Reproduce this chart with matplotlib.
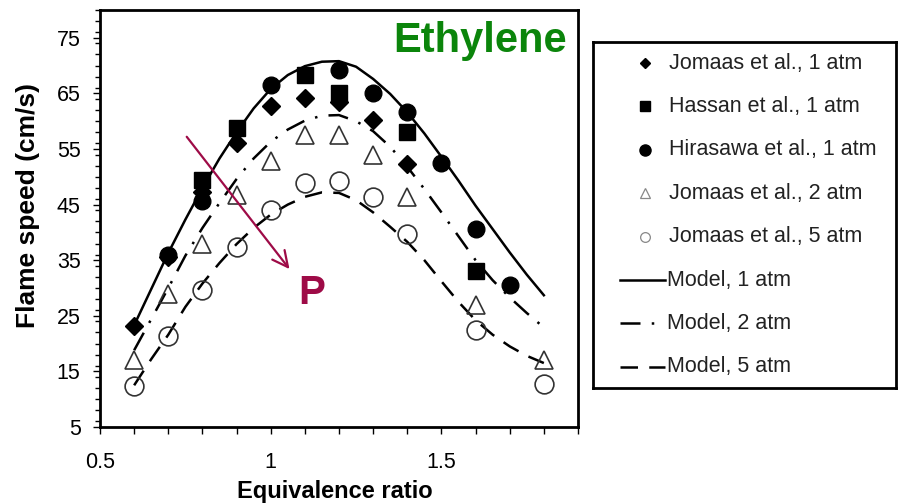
import matplotlib
matplotlib.use("Agg")
import matplotlib.pyplot as plt
from matplotlib.ticker import MultipleLocator, FixedLocator

plt.rcParams['font.family'] = ['Liberation Sans', 'DejaVu Sans']

# ---- measured laminar flame speeds (cm/s) vs equivalence ratio ----
phi_jomaas1 = [0.6, 0.7, 0.8, 0.9, 1.0, 1.1, 1.2, 1.3, 1.4]
su_jomaas1 = [23.2, 35.6, 47.2, 56.0, 62.8, 64.2, 63.5, 60.2, 52.3]

phi_hassan = [0.8, 0.9, 1.1, 1.2, 1.4, 1.6]
su_hassan = [49.5, 58.7, 68.3, 65.0, 58.0, 33.0]

phi_hirasawa = [0.7, 0.8, 1.0, 1.2, 1.3, 1.4, 1.5, 1.6, 1.7]
su_hirasawa = [36.0, 45.6, 66.5, 69.2, 65.0, 61.7, 52.4, 40.7, 30.5]

phi_jomaas2 = [0.6, 0.7, 0.8, 0.9, 1.0, 1.1, 1.2, 1.3, 1.4, 1.6, 1.8]
su_jomaas2 = [17.0, 29.0, 38.0, 46.8, 52.8, 57.5, 57.5, 54.0, 46.4, 27.0, 17.0]

phi_jomaas5 = [0.6, 0.7, 0.8, 0.9, 1.0, 1.1, 1.2, 1.3, 1.4, 1.6, 1.8]
su_jomaas5 = [12.3, 21.3, 29.7, 37.4, 44.0, 48.8, 49.3, 46.3, 39.8, 22.5, 12.8]

# ---- model predictions ----
phi_model = [0.60, 0.65, 0.70, 0.75, 0.80, 0.85, 0.90, 0.95, 1.00, 1.05, 1.10,
             1.15, 1.20, 1.25, 1.30, 1.35, 1.40, 1.45, 1.50, 1.55, 1.60, 1.65,
             1.70, 1.75, 1.80]
su_model1 = [23.3, 29.8, 36.3, 42.3, 48.0, 53.3, 58.0, 62.3, 65.8, 68.3, 69.9,
             70.7, 70.8, 69.8, 67.6, 64.9, 61.6, 57.8, 53.6, 49.3, 44.8, 40.6,
             36.4, 32.4, 28.7]
su_model2 = [18.8, 24.4, 30.0, 35.8, 40.8, 45.3, 49.6, 53.3, 56.3, 58.5, 60.1,
             61.0, 61.1, 60.0, 58.2, 55.4, 51.8, 47.8, 43.6, 39.3, 35.0, 31.4,
             28.3, 25.5, 22.9]
su_model5 = [12.5, 17.2, 21.6, 26.6, 30.8, 34.5, 37.9, 40.8, 43.2, 45.0, 46.4,
             47.2, 47.1, 45.8, 43.6, 41.0, 38.3, 35.0, 31.2, 27.5, 24.2, 21.6,
             19.5, 17.8, 16.5]

x_ticks = [0.5, 1.0, 1.5]
x_tick_labels = ["0.5", "1", "1.5"]
y_ticks = [5, 15, 25, 35, 45, 55, 65, 75]

data_labels = ["Jomaas et al., 1 atm", "Hassan et al., 1 atm",
               "Hirasawa et al., 1 atm", "Jomaas et al., 2 atm",
               "Jomaas et al., 5 atm"]
model_labels = ["Model, 1 atm", "Model, 2 atm", "Model, 5 atm"]

# styles
marker_styles = [
    dict(marker='D', ms=9, color='black', mec='black'),
    dict(marker='s', ms=11, color='black', mec='black'),
    dict(marker='o', ms=12, color='black', mec='black'),
    dict(marker='^', ms=13, mfc='none', mec='#333333', mew=1.2),
    dict(marker='o', ms=13.5, mfc='none', mec='#333333', mew=1.2),
]
legend_marker_styles = [
    dict(marker='D', ms=5.5, color='black', mec='black'),
    dict(marker='s', ms=7.5, color='black', mec='black'),
    dict(marker='o', ms=8, color='black', mec='black'),
    dict(marker='^', ms=7, mfc='none', mec='#888888', mew=0.9),
    dict(marker='o', ms=7, mfc='none', mec='#888888', mew=0.9),
]
line_styles = [
    dict(ls='-', lw=1.8, color='black'),
    dict(ls=(0, (8, 4.5, 1, 4.5)), lw=1.8, color='black'),
    dict(ls=(0, (7, 4.5)), lw=1.8, color='black'),
]

fig = plt.figure(figsize=(8.98, 5.03), dpi=100)
ax = fig.add_axes([0.11136, 0.15109, 0.53229, 0.82903])

for (px, py), st in zip([(phi_model, su_model1), (phi_model, su_model2),
                          (phi_model, su_model5)], line_styles):
    ax.plot(px, py, zorder=2, **st)

series = [(phi_jomaas1, su_jomaas1), (phi_hassan, su_hassan),
          (phi_hirasawa, su_hirasawa), (phi_jomaas2, su_jomaas2),
          (phi_jomaas5, su_jomaas5)]
order = [2, 1, 0, 3, 4]
for i in order:
    px, py = series[i]
    ax.plot(px, py, ls='none', zorder=3, **marker_styles[i])

ax.set_xlim(0.5, 1.9)
ax.set_ylim(5, 80)
ax.xaxis.set_major_locator(FixedLocator(x_ticks))
ax.set_xticklabels(x_tick_labels)
ax.xaxis.set_minor_locator(MultipleLocator(0.1))
ax.yaxis.set_major_locator(FixedLocator(y_ticks))
ax.yaxis.set_minor_locator(MultipleLocator(2))
ax.tick_params(which='both', direction='out', labelsize=15.5, width=1.0)
ax.tick_params(axis='x', which='both', length=5, pad=13)
ax.tick_params(axis='y', which='major', length=5, pad=9)
ax.tick_params(axis='y', which='minor', length=3.5)
for sp in ax.spines.values():
    sp.set_linewidth(2.0)

ax.set_xlabel("Equivalence ratio", fontsize=17, fontweight='bold')
ax.set_ylabel("Flame speed (cm/s)", fontsize=19, fontweight='bold')
ax.xaxis.set_label_coords(0.4916, -0.128)
ax.yaxis.set_label_coords(-0.126, 0.532)

ax.text(0.977, 0.899, "Ethylene", transform=ax.transAxes, ha='right',
        va='baseline', fontsize=30, fontweight='bold', color='#0b850b')

arrow_color = '#9e0b47'
ax.annotate("", xy=(1.055, 33.4), xytext=(0.754, 57.2),
            arrowprops=dict(arrowstyle='->', color=arrow_color, lw=1.6,
                            mutation_scale=28, shrinkA=0, shrinkB=0))
ax.text(1.0806, 27.1, "P", ha='left', va='baseline', fontsize=29,
        fontweight='bold', color=arrow_color)

# legend panel
lax = fig.add_axes([0.6604, 0.2286, 0.3374, 0.6879])
lax.set_xlim(0, 1)
lax.set_ylim(1, 0)
lax.set_xticks([])
lax.set_yticks([])
for sp in lax.spines.values():
    sp.set_linewidth(2.0)

row0, row_step = 0.061, 0.1254
for i, (lbl, st) in enumerate(zip(data_labels, legend_marker_styles)):
    y = row0 + i * row_step
    lax.plot([0.172], [y], ls='none', **st)
    lax.text(0.252, y, lbl, ha='left', va='center', fontsize=15.5, color='#222222')
for j, (lbl, st) in enumerate(zip(model_labels, line_styles)):
    y = row0 + (len(data_labels) + j) * row_step
    lax.plot([0.089, 0.238], [y, y], **st)
    lax.text(0.243, y, lbl, ha='left', va='center', fontsize=15.5, color='#222222')

fig.savefig("out.png", dpi=100)
